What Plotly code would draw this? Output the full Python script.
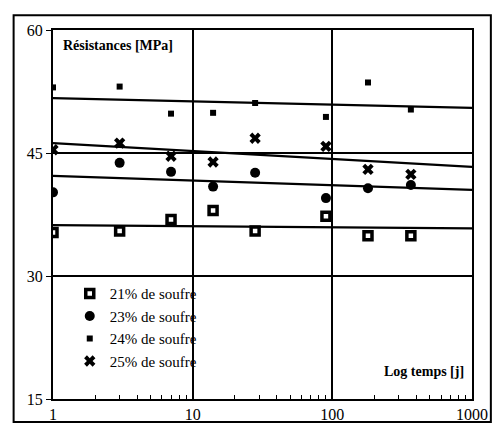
import plotly.graph_objects as go

days = [1, 3, 7, 14, 28, 90, 180, 365]
s21 = [35.3, 35.5, 36.9, 38.0, 35.5, 37.3, 34.9, 34.9]
s23 = [40.2, 43.8, 42.7, 40.9, 42.6, 39.5, 40.7, 41.1]
s24 = [53.0, 53.1, 49.8, 49.9, 51.1, 49.4, 53.6, 50.3]
s25 = [45.4, 46.2, 44.6, 43.9, 46.8, 45.8, 43.0, 42.4]

fit_x = [1, 1000]
fit21 = [36.2, 35.8]
fit23 = [42.2, 40.5]
fit24 = [51.7, 50.5]
fit25 = [46.2, 43.3]

names = ["21% de soufre", "23% de soufre", "24% de soufre", "25% de soufre"]
y_ticks = [15, 30, 45, 60]
x_ticks = [1, 10, 100, 1000]
x_minor = [m * 10 ** e for e in range(3) for m in range(2, 10)]

serif = "Liberation Serif, DejaVu Serif, serif"
fig = go.Figure()

for f in [fit21, fit23, fit24, fit25]:
    fig.add_trace(go.Scatter(x=fit_x, y=f, mode="lines", showlegend=False,
                             line=dict(color="black", width=2.2), hoverinfo="skip"))

styles = [
    dict(symbol="square-open", size=8, color="black", line=dict(color="black", width=3.5)),
    dict(symbol="circle", size=10, color="black"),
    dict(symbol="square", size=6, color="black"),
    dict(symbol="x", size=10, color="black", line=dict(width=0)),
]
for name, s, st in zip(names, [s21, s23, s24, s25], styles):
    fig.add_trace(go.Scatter(x=days, y=s, mode="markers", name=name, marker=st))

fig.add_annotation(text="<b>Résistances [MPa]</b>", xref="paper", yref="paper",
                   x=0.02, y=0.985, xanchor="left", yanchor="top", showarrow=False,
                   font=dict(family=serif, size=14, color="black"))
fig.add_annotation(text="<b>Log temps [j]</b>", xref="paper", yref="paper",
                   x=0.985, y=0.05, xanchor="right", yanchor="bottom", showarrow=False,
                   font=dict(family=serif, size=14, color="black"))

fig.add_shape(type="rect", xref="paper", yref="paper", x0=-0.094, x1=1.045,
              y0=-0.062, y1=1.04, line=dict(color="black", width=2))

fig.update_layout(
    width=500, height=435,
    margin=dict(l=53, r=22, t=30, b=35),
    paper_bgcolor="white", plot_bgcolor="white",
    font=dict(family=serif, size=16, color="black"),
    legend=dict(x=0.04, y=0.33, xanchor="left", yanchor="top",
                bgcolor="rgba(0,0,0,0)", font=dict(family=serif, size=15)),
)
fig.update_xaxes(type="log", range=[0, 3], tickvals=x_ticks, ticktext=[str(v) for v in x_ticks],
                 showgrid=True, gridcolor="black", gridwidth=1.5,
                 showline=True, linecolor="black", linewidth=2, mirror=True,
                 ticks="inside", ticklen=6, tickcolor="black",
                 minor=dict(tickmode="array", tickvals=x_minor, ticks="inside",
                            ticklen=4, tickcolor="black", showgrid=False),
                 zeroline=False)
fig.update_yaxes(range=[15, 60], tickvals=y_ticks,
                 showgrid=True, gridcolor="black", gridwidth=1.5,
                 showline=True, linecolor="black", linewidth=2, mirror=True,
                 ticks="outside", ticklen=5, tickcolor="black", zeroline=False)

fig.write_html("out.html")
